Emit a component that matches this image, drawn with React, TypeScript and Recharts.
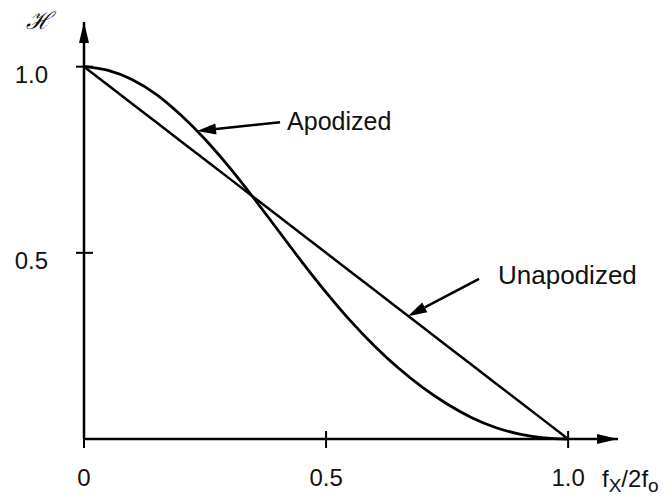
import { LineChart, Line, XAxis, YAxis, ReferenceLine, ReferenceDot } from 'recharts'

// normalized spatial frequency f_X / 2f_o
const FREQ = [0, 0.05, 0.1, 0.15, 0.2, 0.25, 0.3, 0.35, 0.4, 0.45, 0.5, 0.55, 0.6, 0.65, 0.7, 0.75, 0.8, 0.85, 0.9, 0.95, 1.0]
const APODIZED = [1.0, 0.99, 0.965, 0.925, 0.87, 0.805, 0.73, 0.648, 0.562, 0.476, 0.394, 0.318, 0.25, 0.19, 0.138, 0.094, 0.058, 0.031, 0.013, 0.003, 0]
const UNAPODIZED = [1.0, 0.95, 0.9, 0.85, 0.8, 0.75, 0.7, 0.65, 0.6, 0.55, 0.5, 0.45, 0.4, 0.35, 0.3, 0.25, 0.2, 0.15, 0.1, 0.05, 0]

const X_TICKS = [0, 0.5, 1.0]
const X_TICK_LABELS = ['0', '0.5', '1.0']
const Y_TICKS = [0.5, 1.0]
const Y_TICK_LABELS = ['0.5', '1.0']

// annotation arrows: [tail, tip] in data units
const APODIZED_ARROW = [{ x: 0.405, y: 0.851 }, { x: 0.2335, y: 0.827 }]
const UNAPODIZED_ARROW = [{ x: 0.816, y: 0.43 }, { x: 0.669, y: 0.33 }]

const X_MAX = 1.103
const Y_MAX = 1.12

const data = FREQ.map((f, i) => ({ f, apodized: APODIZED[i], unapodized: UNAPODIZED[i] }))

const FONT = '"Liberation Sans", Arial, Helvetica, sans-serif'

const XTick = (props: any) => {
  const { x, y, payload } = props
  const idx = X_TICKS.indexOf(payload.value)
  return (
    <g>
      <line x1={x} y1={y - 8} x2={x} y2={y + 9} stroke="#000" strokeWidth={2} />
      <text x={x} y={y + 47} textAnchor="middle" fontSize={24} fontFamily={FONT} fill="#111">
        {X_TICK_LABELS[idx] ?? payload.value}
      </text>
    </g>
  )
}

const YTick = (props: any) => {
  const { x, y, payload } = props
  const idx = Y_TICKS.indexOf(payload.value)
  return (
    <g>
      <line x1={x - 8} y1={y} x2={x + 9} y2={y} stroke="#000" strokeWidth={2} />
      <text x={x - 36} y={y + 16} textAnchor="end" fontSize={24} fontFamily={FONT} fill="#111">
        {Y_TICK_LABELS[idx] ?? payload.value}
      </text>
    </g>
  )
}

const arrowShape = (label: string, dx: number, dy: number, size: number) => (props: any) => {
  const { x1, y1, x2, y2 } = props
  const ang = Math.atan2(y2 - y1, x2 - x1)
  const len = 19
  const hw = 5.5
  const bx = x2 - len * Math.cos(ang)
  const by = y2 - len * Math.sin(ang)
  const px = -Math.sin(ang) * hw
  const py = Math.cos(ang) * hw
  return (
    <g>
      <line x1={x1} y1={y1} x2={bx} y2={by} stroke="#000" strokeWidth={2.5} />
      <polygon points={`${x2},${y2} ${bx + px},${by + py} ${bx - px},${by - py}`} fill="#000" />
      <text x={x1 + dx} y={y1 + dy} fontSize={size} fontFamily={FONT} fill="#111">
        {label}
      </text>
    </g>
  )
}

const XArrowHead = (props: any) => {
  const { cx, cy } = props
  return <polygon points={`${cx},${cy} ${cx - 21},${cy - 5} ${cx - 21},${cy + 5}`} fill="#000" />
}

const YArrowHead = (props: any) => {
  const { cx, cy } = props
  return <polygon points={`${cx},${cy} ${cx - 5},${cy + 21} ${cx + 5},${cy + 21}`} fill="#000" />
}

export default function App() {
  return (
    <div style={{ position: 'absolute', left: 0, top: 0, background: '#fff' }}>
      <LineChart width={672} height={498} data={data} margin={{ top: 22, right: 54, left: 0, bottom: 0 }}>
        <XAxis
          dataKey="f"
          type="number"
          domain={[0, X_MAX]}
          ticks={X_TICKS}
          tickLine={false}
          tickSize={0}
          tickMargin={0}
          tick={<XTick />}
          height={59}
          axisLine={{ stroke: '#000', strokeWidth: 2.5 }}
          label={{
            position: 'insideBottomRight',
            content: () => (
              <text x={602} y={487} fontSize={24} fontFamily={FONT} fill="#111">
                f
                <tspan fontSize={19} dy={5}>X</tspan>
                <tspan fontSize={24} dy={-5}>/2f</tspan>
                <tspan fontSize={19} dy={5}>o</tspan>
              </text>
            ),
          }}
        />
        <YAxis
          type="number"
          domain={[0, Y_MAX]}
          ticks={Y_TICKS}
          tickLine={false}
          tickSize={0}
          tickMargin={0}
          tick={<YTick />}
          width={84}
          axisLine={{ stroke: '#000', strokeWidth: 2.5 }}
          label={{
            position: 'insideTopLeft',
            content: () => (
              <text x={38} y={29} textAnchor="middle" fontSize={24} fontStyle="italic" fontFamily='"DejaVu Serif", serif' fill="#111">
                ℋ
              </text>
            ),
          }}
        />
        <Line dataKey="unapodized" type="linear" stroke="#000" strokeWidth={2.5} dot={false} isAnimationActive={false} />
        <Line dataKey="apodized" type="monotone" stroke="#000" strokeWidth={2.8} dot={false} isAnimationActive={false} />
        <ReferenceLine segment={APODIZED_ARROW} shape={arrowShape('Apodized', 7, 8, 25)} />
        <ReferenceLine segment={UNAPODIZED_ARROW} shape={arrowShape('Unapodized', 19, 5, 26)} />
        <ReferenceDot x={X_MAX} y={0} r={0} shape={<XArrowHead />} />
        <ReferenceDot x={0} y={Y_MAX} r={0} shape={<YArrowHead />} />
      </LineChart>
    </div>
  )
}
